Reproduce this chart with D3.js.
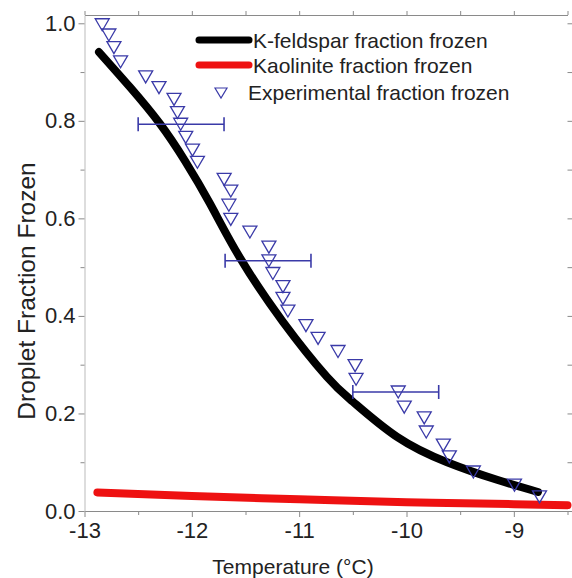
<!DOCTYPE html>
<html>
<head>
<meta charset="utf-8">
<script src="https://cdn.jsdelivr.net/npm/d3@7"></script>
<style>
  html, body { margin: 0; padding: 0; background: #fff; }
  #chart { width: 572px; height: 578px; }
  text { font-family: "Liberation Sans", Arial, sans-serif; fill: #222; }
</style>
</head>
<body>
<div id="chart"></div>
<script>
// K-feldspar model curve
const kfeldTemp = [-12.865, -12.576, -12.297, -12.064, -11.830, -11.551, -11.151, -10.741, -10.499, -10.088, -9.622, -9.157, -8.775];
const kfeldFrac = [0.941, 0.869, 0.794, 0.718, 0.630, 0.519, 0.388, 0.275, 0.224, 0.152, 0.100, 0.064, 0.039];

// Kaolinite model curve
const kaolTemp = [-12.88, -12, -11, -10, -9, -8.5];
const kaolFrac = [0.038, 0.031, 0.024, 0.018, 0.014, 0.012];

// Experimental points
const expTemp = [-12.835, -12.773, -12.726, -12.664, -12.43, -12.306, -12.166, -12.134, -12.104, -12.057,
                 -11.994, -11.948, -11.699, -11.637, -11.655, -11.637, -11.459, -11.282, -11.282, -11.245,
                 -11.151, -11.151, -11.105, -10.937, -10.824, -10.638, -10.479, -10.47, -10.077, -10.021,
                 -9.835, -9.816, -9.657, -9.601, -9.377, -8.994, -8.761];
const expFrac = [0.997, 0.976, 0.95, 0.921, 0.89, 0.868, 0.844, 0.817, 0.793, 0.766,
                 0.74, 0.715, 0.68, 0.656, 0.627, 0.598, 0.572, 0.541, 0.513, 0.487,
                 0.46, 0.436, 0.41, 0.38, 0.354, 0.327, 0.298, 0.27, 0.244, 0.213,
                 0.191, 0.162, 0.135, 0.111, 0.08, 0.053, 0.029];

// Horizontal error bars
const errTemp = [-12.10, -11.29, -10.10];
const errFrac = [0.793, 0.513, 0.244];
const errHalf = [0.4, 0.4, 0.4];

// Axis ticks
const xTicks = [-13, -12, -11, -10, -9];
const xMinorTicks = [-12.5, -11.5, -10.5, -9.5, -8.5];
const yTicks = [0.0, 0.2, 0.4, 0.6, 0.8, 1.0];
const yMinorTicks = [0.1, 0.3, 0.5, 0.7, 0.9];

const legendLabels = ["K-feldspar fraction frozen", "Kaolinite fraction frozen", "Experimental fraction frozen"];

const width = 572, height = 578;
const plotLeft = 84.5, plotRight = 567.5, plotTop = 15, plotBottom = 511;

const svg = d3.select("#chart").append("svg")
    .attr("width", width)
    .attr("height", height);

const x = d3.scaleLinear().domain([-13, -8.5]).range([plotLeft, plotRight]);
const y = d3.scaleLinear().domain([0, 1.017]).range([plotBottom, plotTop]);

const frameColor = "#8a8a8a";
const blue = "#3a3aa8";

function styleAxis(g) {
    g.select(".domain").attr("stroke", frameColor);
    g.selectAll(".tick line").attr("stroke", frameColor);
    g.selectAll(".tick text").style("font-size", "22px").attr("fill", "#222");
}

// Bottom axis (major + minor)
svg.append("g")
    .attr("transform", `translate(0,${plotBottom})`)
    .call(d3.axisBottom(x).tickValues(xTicks).tickSize(6).tickPadding(5).tickSizeOuter(0)
        .tickFormat(d => String(d)))
    .call(styleAxis);
svg.append("g")
    .attr("transform", `translate(0,${plotBottom})`)
    .call(d3.axisBottom(x).tickValues(xMinorTicks).tickSize(4).tickFormat(""))
    .call(g => g.select(".domain").remove())
    .call(styleAxis);

// Top axis
svg.append("g")
    .attr("transform", `translate(0,${plotTop})`)
    .call(d3.axisTop(x).tickValues(xTicks.concat(xMinorTicks)).tickSize(4).tickFormat("").tickSizeOuter(0))
    .call(styleAxis);

// Left axis
svg.append("g")
    .attr("transform", `translate(${plotLeft},0)`)
    .call(d3.axisLeft(y).tickValues(yTicks).tickSize(6).tickPadding(3).tickFormat(d3.format(".1f")).tickSizeOuter(0))
    .call(styleAxis)
    .call(g => g.select(".domain").attr("stroke", "#bbb"));
svg.append("g")
    .attr("transform", `translate(${plotLeft},0)`)
    .call(d3.axisLeft(y).tickValues(yMinorTicks).tickSize(4).tickFormat(""))
    .call(g => g.select(".domain").remove())
    .call(styleAxis);

// Right axis: ticks only
svg.append("g")
    .attr("transform", `translate(${plotRight},0)`)
    .call(d3.axisRight(y).tickValues(yTicks.concat(yMinorTicks)).tickSize(5).tickFormat(""))
    .call(g => g.select(".domain").remove())
    .call(styleAxis);

// Axis titles
svg.append("text")
    .attr("x", 293)
    .attr("y", 574)
    .attr("text-anchor", "middle")
    .style("font-size", "21px")
    .text("Temperature (°C)");

svg.append("text")
    .attr("transform", "translate(35,291) rotate(-90)")
    .attr("text-anchor", "middle")
    .style("font-size", "24.5px")
    .text("Droplet Fraction Frozen");

// Model curves
const line = d3.line()
    .x(d => x(d[0]))
    .y(d => y(d[1]))
    .curve(d3.curveNatural);

svg.append("path")
    .datum(kaolTemp.map((t, i) => [t, kaolFrac[i]]))
    .attr("d", line)
    .attr("fill", "none")
    .attr("stroke", "#ee1111")
    .attr("stroke-width", 8)
    .attr("stroke-linecap", "round");

svg.append("path")
    .datum(kfeldTemp.map((t, i) => [t, kfeldFrac[i]]))
    .attr("d", line)
    .attr("fill", "none")
    .attr("stroke", "#000")
    .attr("stroke-width", 8)
    .attr("stroke-linecap", "round");

// Error bars
const capH = 7;
const errG = svg.append("g")
    .attr("stroke", blue)
    .attr("stroke-width", 1.6);
errTemp.forEach((t, i) => {
    const x0 = x(t - errHalf[i]), x1 = x(t + errHalf[i]), yy = y(errFrac[i]);
    errG.append("line").attr("x1", x0).attr("x2", x1).attr("y1", yy).attr("y2", yy);
    errG.append("line").attr("x1", x0).attr("x2", x0).attr("y1", yy - capH).attr("y2", yy + capH);
    errG.append("line").attr("x1", x1).attr("x2", x1).attr("y1", yy - capH).attr("y2", yy + capH);
});

// Experimental points: open down-pointing triangles
function triPath(w, h) {
    return `M${-w / 2},${-h / 2}L${w / 2},${-h / 2}L0,${h / 2}Z`;
}
svg.append("g")
    .selectAll("path")
    .data(expTemp.map((t, i) => [t, expFrac[i]]))
    .enter()
    .append("path")
    .attr("transform", d => `translate(${x(d[0])},${y(d[1])})`)
    .attr("d", triPath(14, 12))
    .attr("fill", "none")
    .attr("stroke", blue)
    .attr("stroke-width", 1.3);

// Legend
const legend = svg.append("g");
const legendY = [40, 65, 92];
legend.append("line")
    .attr("x1", 199).attr("x2", 249).attr("y1", legendY[0]).attr("y2", legendY[0])
    .attr("stroke", "#000").attr("stroke-width", 7).attr("stroke-linecap", "round");
legend.append("line")
    .attr("x1", 199).attr("x2", 249).attr("y1", legendY[1]).attr("y2", legendY[1])
    .attr("stroke", "#ee1111").attr("stroke-width", 7).attr("stroke-linecap", "round");
legend.append("path")
    .attr("transform", `translate(221,${legendY[2] + 1})`)
    .attr("d", triPath(12, 10))
    .attr("fill", "none")
    .attr("stroke", blue)
    .attr("stroke-width", 1.2);

legendLabels.forEach((label, i) => {
    legend.append("text")
        .attr("x", i === 2 ? 248 : 253)
        .attr("y", legendY[i])
        .attr("dy", "0.36em")
        .style("font-size", "21px")
        .text(label);
});
</script>
</body>
</html>
